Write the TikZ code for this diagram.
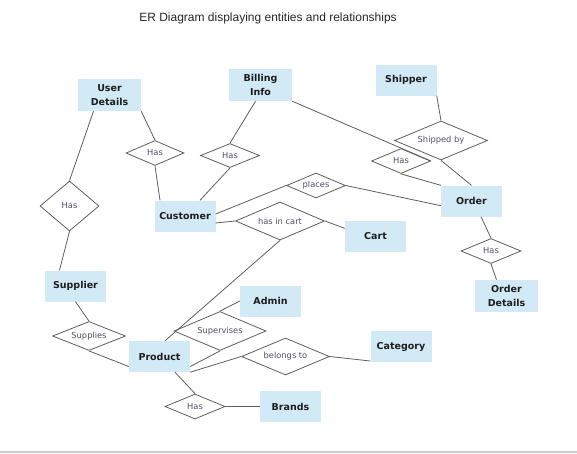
\documentclass[tikz,border=0pt]{standalone}
\usepackage{fontspec}
\setmainfont{DejaVu Sans}
\newfontfamily\titlefont{Liberation Sans}
\usepackage{tikz}
\usetikzlibrary{shapes.geometric, positioning}
\definecolor{entblue}{HTML}{D2E9F6}
\definecolor{linegray}{HTML}{5E5E5E}
\definecolor{reltext}{HTML}{4E4E66}
\definecolor{enttext}{HTML}{1E1E1E}
\tikzset{
	entity/.style={rectangle, fill=entblue, minimum width=61pt, minimum height=31pt, inner sep=0pt, font=\fontsize{9.5}{14}\selectfont\bfseries, text=enttext, align=center},
	relation/.style={diamond, aspect=2.5, draw=linegray, line width=0.8pt, inner sep=0pt, font=\fontsize{8.3}{10}\selectfont, text=reltext},
	link/.style={draw=linegray, line width=0.8pt}
}

\begin{document}
\begin{tikzpicture}[x=1pt, y=-1pt]
				\useasboundingbox (0,0) rectangle (577,453);
				\node[anchor=base, font=\titlefont\fontsize{12}{14}\selectfont, text=black!85] (title) at (268,21.5) {ER Diagram displaying entities and relationships};
				\node[entity, minimum width=63pt, minimum height=32pt] (ud) at (109.5,95) {User\\Details};
				\node[entity, minimum width=63pt, minimum height=32pt] (bill) at (260.5,85) {Billing\\Info};
				\node[entity] (cust) at (185,216) {Customer};
				\node[entity] (ship) at (406,80) {Shipper};
				\node[entity] (ord) at (471.5,201) {Order};
				\node[entity] (cart) at (375.5,236) {Cart};
				\node[entity] (sup) at (75.5,286) {Supplier};
				\node[entity] (adm) at (270.5,301) {Admin};
				\node[entity] (prod) at (159.5,356.5) {Product};
				\node[entity] (brand) at (290.5,406.5) {Brands};
				\node[entity, minimum width=63pt, minimum height=32pt] (od) at (506.5,296) {Order\\Details};
				\node[entity] (cat) at (401,346.5) {Category};
				\node[relation, minimum width=58pt, minimum height=25pt] (hasud) at (155,153) {Has};
				\node[relation, minimum width=59pt, minimum height=24pt] (hasbill) at (230,155.5) {Has};
				\node[relation, minimum width=59pt, minimum height=50pt] (hassup) at (69.5,206) {Has};
				\node[relation, minimum width=89pt, minimum height=38pt] (incart) at (280,221) {has in cart};
				\node[relation, minimum width=59pt, minimum height=25pt] (places) at (316,185.5) {places};
				\node[relation, minimum width=93pt, minimum height=39pt] (shipby) at (441,140.5) {Shipped by};
				\node[relation, minimum width=59pt, minimum height=25pt] (hasord) at (401,161) {Has};
				\node[relation, minimum width=60pt, minimum height=25pt] (hasod) at (491,251) {Has};
				\node[relation, minimum width=73pt, minimum height=29pt] (supplies) at (89,336) {Supplies};
				\node[relation, minimum width=92pt, minimum height=39pt] (superv) at (220,331) {Supervises};
				\node[relation, minimum width=88pt, minimum height=37pt] (belongs) at (285.5,356.5) {belongs to};
				\node[relation, minimum width=60pt, minimum height=25pt] (hasbr) at (195,406.5) {Has};
				\draw[link] ([xshift=-16pt]ud.south) -- (hassup.north);
				\draw[link] (hassup.south) -- ([xshift=-16pt]sup.north);
				\draw[link] (ud.south east) -- (hasud.north);
				\draw[link] (hasud.south) -- ([xshift=-25pt]cust.north);
				\draw[link] ([xshift=-5pt]bill.south) -- (hasbill.north);
				\draw[link] (hasbill.south) -- ([xshift=15pt]cust.north);
				\draw[link] ([yshift=2pt]cust.east) -- (places.west);
				\draw[link] (places.east) -- ([yshift=-4.7pt]ord.west);
				\draw[link] ([yshift=-7pt]cust.east) -- (incart.west);
				\draw[link] (incart.east) -- ([yshift=7.7pt]cart.west);
				\draw[link] (incart.south) -- ([xshift=5.5pt]prod.north);
				\draw[link] (bill.south east) -- (hasord.east);
				\draw[link] (hasord.south) -- (ord.north west);
				\draw[link] (ship.south east) -- (shipby.north);
				\draw[link] (shipby.south) -- (ord.north);
				\draw[link] ([xshift=9.5pt]ord.south) -- (hasod.north);
				\draw[link] (hasod.south) -- ([xshift=-10pt]od.north);
				\draw[link] (sup.south) -- (supplies.north);
				\draw[link] (supplies.south) -- ([yshift=-10pt]prod.west);
				\draw[link] (adm.west) -- (superv.north);
				\draw[link] (superv.south) -- ([yshift=-10pt]prod.east);
				\draw[link] (prod.south east) -- (belongs.west);
				\draw[link] (belongs.east) -- ([yshift=-14.5pt]cat.west);
				\draw[link] ([xshift=15.5pt]prod.south) -- (hasbr.north);
				\draw[link] (hasbr.east) -- (brand.west);
				\draw[black!20, line width=1.5pt] (0,452) -- (577,452);
			\end{tikzpicture}
\end{document}
